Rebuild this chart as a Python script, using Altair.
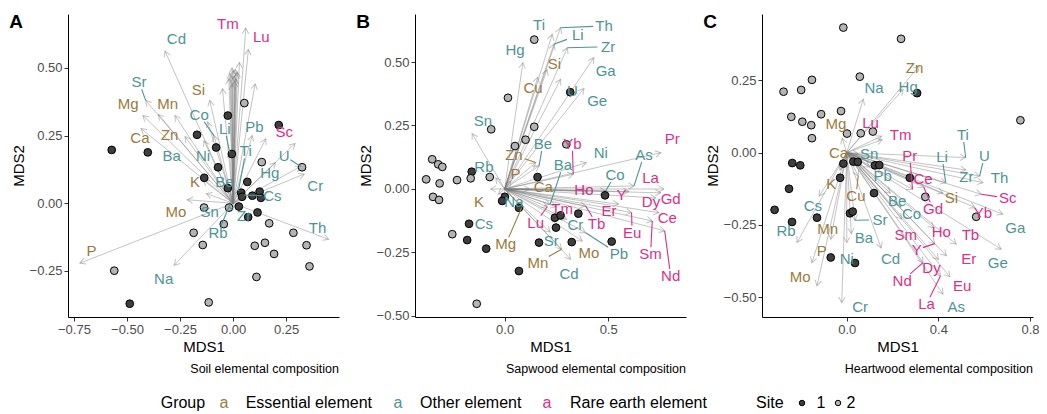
import math
import altair as alt
import pandas as pd

FONT = "Liberation Sans"
W, H = 271, 303

GROUP_NAMES = {"E": "Essential element", "O": "Other element", "R": "Rare earth element"}
GROUP_DOMAIN = ["Essential element", "Other element", "Rare earth element"]
GROUP_COLORS = ["#9B7A3B", "#4C9597", "#D8308A"]
SITE_DOMAIN = ["1", "2"]
SITE_COLORS = ["#3e3e3e", "#b4b4b4"]

# ---------------- Panel A: soil ----------------
A_s1x = [-0.572, -0.402, -0.025, -0.170, -0.080, -0.006, 0.215, -0.071, -0.136, 0.067, -0.025, 0.038, 0.042, 0.091, 0.125, 0.131, 0.027, 0.115, 0.071, -0.487]
A_s1y = [0.197, 0.188, 0.324, 0.253, 0.206, 0.182, 0.289, 0.133, 0.094, 0.079, 0.056, 0.039, 0.024, 0.028, 0.043, 0.020, -0.012, -0.034, -0.051, -0.371]
A_s2x = [0.053, 0.135, 0.325, -0.137, -0.019, -0.044, 0.170, -0.186, 0.284, -0.143, 0.150, 0.102, 0.193, 0.346, 0.360, -0.560, 0.110, -0.115]
A_s2y = [0.370, 0.152, 0.133, -0.016, -0.016, -0.077, -0.074, -0.109, -0.109, -0.154, -0.146, -0.157, -0.187, -0.155, -0.233, -0.249, -0.272, -0.366]

A_el = ["Tm", "Lu", "Cd", "Sr", "Mg", "Mn", "Si", "Co", "Li", "Pb", "Sc", "Ca", "Zn", "Ba", "Ni", "Ti", "U", "Hg", "Cr", "K", "Be", "Cs", "Mo", "Sn", "Zr", "Rb", "Th", "P", "Na",
        "La", "Ce", "Pr", "Nd", "Sm", "Eu", "Gd", "Tb", "Dy", "Ho", "Er", "Y", "Yb", "Ga", "Ge", "As", "Cu"]
A_grp = ["R", "R", "O", "O", "E", "E", "E", "O", "O", "O", "R", "E", "E", "O", "O", "O", "O", "O", "O", "E", "O", "O", "E", "O", "O", "O", "O", "E", "O",
         "R", "R", "R", "R", "R", "R", "R", "R", "R", "R", "R", "R", "R", "O", "O", "O", "E"]
A_tx = [0.060, 0.072, -0.321, -0.412, -0.425, -0.352, -0.110, -0.090, -0.016, 0.090, 0.154, -0.434, -0.274, -0.226, -0.137, 0.025, 0.319, 0.200, 0.335, -0.140, -0.020, 0.052, -0.216, -0.126, -0.024, -0.014, 0.450, -0.722, -0.278,
        -0.015, -0.005, 0.000, 0.010, 0.015, -0.020, 0.005, 0.020, -0.010, 0.008, 0.012, -0.005, 0.030, 0.104, -0.050, 0.292, -0.120]
A_ty = [0.647, 0.568, 0.562, 0.380, 0.324, 0.328, 0.380, 0.250, 0.188, 0.250, 0.238, 0.276, 0.324, 0.246, 0.231, 0.046, 0.136, 0.150, 0.108, 0.085, 0.070, 0.030, 0.013, 0.036, -0.013, -0.003, -0.133, -0.221, -0.229,
        0.480, 0.500, 0.490, 0.495, 0.480, 0.460, 0.470, 0.485, 0.470, 0.450, 0.460, 0.440, 0.520, 0.441, 0.423, 0.221, 0.300]
A_lx = [-0.025, 0.133, -0.267, -0.443, -0.494, -0.308, -0.164, -0.160, -0.039, 0.100, 0.241, -0.439, -0.299, -0.289, -0.142, 0.060, 0.241, 0.173, 0.387, -0.179, -0.041, 0.185, -0.270, -0.110, 0.052, -0.071, 0.398, -0.667, -0.327] + [None] * 17
A_ly = [0.661, 0.614, 0.606, 0.447, 0.365, 0.367, 0.419, 0.327, 0.275, 0.283, 0.265, 0.241, 0.253, 0.175, 0.175, 0.192, 0.175, 0.110, 0.062, 0.080, 0.080, 0.028, -0.034, -0.034, -0.046, -0.110, -0.090, -0.176, -0.279] + [None] * 17
A_leader = ["Sr", "Co", "Li", "Ti", "U", "Cs", "Zr", "Rb"]

# ---------------- Panel B: sapwood ----------------
B_s1x = [0.317, 0.159, 0.485, -0.159, 0.001, -0.012, 0.069, -0.172, -0.181, -0.089, 0.069, 0.243, 0.270, 0.356, 0.248, 0.166, 0.324, 0.517]
B_s1y = [0.381, 0.047, -0.025, 0.068, -0.031, -0.047, -0.074, -0.137, -0.201, -0.235, -0.323, -0.113, -0.104, -0.097, -0.152, -0.211, -0.209, -0.207]
B_s2x = [0.143, 0.016, -0.065, 0.143, 0.101, 0.050, 0.298, -0.350, -0.321, -0.301, -0.072, -0.379, -0.314, -0.230, -0.164, -0.346, -0.317, -0.253, -0.135]
B_s2y = [0.588, 0.359, 0.235, 0.245, 0.194, 0.169, 0.176, 0.117, 0.097, 0.087, 0.047, 0.038, 0.022, 0.035, 0.042, -0.031, -0.043, -0.178, -0.452]

B_el = ["Ti", "Th", "Li", "Zr", "Hg", "Si", "Ga", "Cu", "U", "Ge", "Sn", "Be", "Yb", "Zn", "Ni", "Pr", "Rb", "Ba", "As", "P", "Co", "La", "Ca", "Ho", "Y", "Gd", "Dy", "K", "Na",
        "Er", "Ce", "Nd", "Sm", "Eu", "Tb", "Tm", "Cr", "Lu", "Mg", "Sr", "Pb", "Mo", "Mn", "Cd", "Cs"]
B_grp = ["O", "O", "O", "O", "O", "E", "O", "E", "O", "O", "O", "O", "R", "E", "O", "R", "O", "O", "O", "E", "O", "R", "E", "R", "R", "R", "R", "E", "O",
         "R", "R", "R", "R", "R", "R", "R", "O", "R", "E", "O", "O", "E", "E", "O", "O"]
B_tx = [0.230, 0.270, 0.238, 0.303, 0.088, 0.205, 0.431, 0.160, 0.270, 0.383, -0.157, 0.166, 0.331, 0.150, 0.394, 0.754, -0.043, 0.220, 0.625, 0.030, 0.488, 0.770, 0.120, 0.400, 0.600, 0.754, 0.730, -0.068, 0.000,
        0.550, 0.745, 0.773, 0.713, 0.613, 0.391, 0.250, 0.300, 0.206, 0.082, 0.220, 0.391, 0.375, 0.275, 0.319, -0.030]
B_ty = [0.609, 0.635, 0.570, 0.556, 0.497, 0.470, 0.517, 0.440, 0.432, 0.396, 0.218, 0.091, 0.058, 0.104, 0.104, 0.143, 0.044, -0.060, 0.012, 0.030, -0.008, 0.000, 0.000, -0.010, -0.010, -0.015, -0.035, 0.000, -0.040,
        -0.060, -0.093, -0.165, -0.126, -0.093, -0.067, -0.070, -0.120, -0.070, -0.074, -0.170, -0.172, -0.205, -0.237, -0.277, -0.020]
B_lx = [0.166, 0.480, 0.353, 0.500, 0.050, 0.241, 0.488, 0.137, 0.327, 0.447, -0.105, 0.185, 0.327, 0.045, 0.464, 0.810, -0.100, 0.282, 0.673, 0.053, 0.533, 0.705, 0.187, 0.383, 0.565, 0.802, 0.707, -0.124, 0.045,
        0.504, 0.786, 0.802, 0.705, 0.616, 0.444, 0.278, 0.342, 0.150, 0.005, 0.225, 0.552, 0.407, 0.161, 0.311, -0.100]
B_ly = [0.644, 0.642, 0.605, 0.560, 0.546, 0.493, 0.465, 0.399, 0.386, 0.346, 0.268, 0.178, 0.178, 0.134, 0.143, 0.196, 0.088, 0.094, 0.134, 0.058, 0.055, 0.044, 0.009, -0.005, -0.025, -0.040, -0.052, -0.051, -0.051,
        -0.087, -0.113, -0.343, -0.257, -0.172, -0.137, -0.080, -0.142, -0.133, -0.218, -0.205, -0.257, -0.251, -0.290, -0.333, -0.137]
B_leader = ["Th", "Li", "Zr", "Be", "Yb", "Zn", "Ba", "As", "Co", "Nd", "Sm", "Eu", "Tb", "Lu", "Mg", "Pb", "Mn"]

# ---------------- Panel C: heartwood ----------------
C_s1x = [0.307, -0.238, -0.203, -0.015, 0.029, 0.048, 0.123, 0.142, -0.029, 0.275, -0.252, 0.119, -0.315, -0.239, -0.130, 0.014, 0.026, -0.070, 0.036]
C_s1y = [0.206, -0.036, -0.044, -0.038, -0.031, -0.032, -0.044, -0.043, -0.087, -0.087, -0.125, -0.140, -0.198, -0.240, -0.225, -0.210, -0.204, -0.363, -0.382]
C_s2x = [-0.015, 0.237, 0.057, -0.276, -0.199, -0.152, -0.242, -0.194, -0.155, -0.112, -0.025, -0.152, 0.001, 0.061, 0.114, 0.758, 0.343, 0.565]
C_s2y = [0.433, 0.394, 0.263, 0.211, 0.217, 0.252, 0.124, 0.107, 0.095, 0.133, 0.144, 0.050, 0.066, 0.067, 0.073, 0.112, -0.153, -0.222]

C_el = ["Zn", "Hg", "Na", "Mg", "Lu", "Tm", "Ti", "Ca", "Sn", "Pr", "Li", "U", "Zr", "Th", "Ce", "Pb", "K", "Cu", "Si", "Sc", "Be", "Cs", "Gd", "Yb", "Ga", "Co", "Sr",
        "Rb", "Mn", "Ba", "Sm", "Ho", "Tb", "Y", "P", "Ni", "Cd", "Er", "Ge", "Dy", "Nd", "Mo", "Eu", "La", "As", "Cr"]
C_grp = ["E", "O", "O", "E", "R", "R", "O", "E", "O", "R", "O", "O", "O", "O", "R", "O", "E", "E", "E", "R", "O", "O", "R", "R", "O", "O", "O",
         "O", "E", "O", "R", "R", "R", "R", "E", "O", "O", "R", "O", "R", "R", "E", "R", "R", "O", "O"]
C_tx = [0.316, 0.246, 0.072, -0.020, 0.152, 0.155, 0.519, 0.000, 0.050, 0.287, 0.432, 0.580, 0.520, 0.594, 0.300, 0.100, -0.030, 0.050, 0.420, 0.587, 0.190, -0.120, 0.336, 0.560, 0.681, 0.222, 0.036,
        -0.217, -0.070, 0.020, 0.240, 0.380, 0.478, 0.384, -0.152, 0.000, 0.150, 0.435, 0.674, 0.400, 0.333, -0.130, 0.450, 0.409, 0.420, -0.022]
C_ty = [0.300, 0.219, 0.185, 0.050, 0.057, 0.045, -0.017, 0.000, -0.005, -0.127, -0.104, -0.081, -0.060, -0.104, -0.090, -0.050, -0.060, -0.081, -0.140, -0.144, -0.140, -0.150, -0.119, -0.190, -0.213, -0.180, -0.234,
        -0.311, -0.300, -0.280, -0.230, -0.260, -0.317, -0.315, -0.381, -0.311, -0.330, -0.357, -0.334, -0.370, -0.381, -0.461, -0.430, -0.427, -0.490, -0.519]
C_lx = [0.296, 0.268, 0.119, -0.047, 0.104, 0.235, 0.507, -0.036, 0.098, 0.275, 0.416, 0.601, 0.522, 0.667, 0.333, 0.157, -0.068, 0.040, 0.457, 0.703, 0.220, -0.148, 0.377, 0.594, 0.736, 0.283, 0.145,
        -0.265, -0.083, 0.075, 0.258, 0.413, 0.540, 0.305, -0.109, 0.000, 0.191, 0.533, 0.659, 0.370, 0.242, -0.203, 0.504, 0.348, 0.478, 0.058]
C_ly = [0.293, 0.229, 0.223, 0.098, 0.104, 0.061, 0.061, -0.002, -0.006, -0.011, -0.015, -0.011, -0.084, -0.087, -0.092, -0.081, -0.109, -0.150, -0.156, -0.158, -0.167, -0.184, -0.196, -0.208, -0.260, -0.213, -0.233,
        -0.271, -0.263, -0.294, -0.284, -0.273, -0.285, -0.336, -0.340, -0.369, -0.369, -0.369, -0.381, -0.400, -0.444, -0.432, -0.461, -0.525, -0.536, -0.536]
C_leader = ["Ti", "Pr", "Li", "U", "Cu", "Sc", "Gd", "Co", "Sr", "Y", "Nd", "La"]

# Legend row
LEGEND_TEXT = ["Group", "a", "Essential element", "a", "Other element", "a", "Rare earth element", "Site", "1", "2"]

CHEVRON = "M -0.9 1.56 L 0 0 L 0.9 1.56"
ARROW_COLOR = "#7a7a7a"
ARROW_OPACITY = 0.45


def build_panel(letter, caption, xdom, ydom, xticks, yticks, xfmt, yfmt,
                s1x, s1y, s2x, s2y, el, grp, tx, ty, lx, ly, leaders, legend=False):
    assert len(el) == len(grp) == len(tx) == len(ty) == len(lx) == len(ly), letter
    sx = W / (xdom[1] - xdom[0])
    sy = H / (ydom[1] - ydom[0])
    xs = alt.Scale(domain=xdom, nice=False, zero=False)
    ys = alt.Scale(domain=ydom, nice=False, zero=False)
    xax = alt.Axis(values=xticks, format=xfmt, title="MDS1", grid=False)
    yax = alt.Axis(values=yticks, format=yfmt, title="MDS2", grid=False)
    gscale = alt.Scale(domain=GROUP_DOMAIN, range=GROUP_COLORS)

    def X(f):
        return alt.X(f, type="quantitative", scale=xs, axis=xax)

    def Y(f):
        return alt.Y(f, type="quantitative", scale=ys, axis=yax)

    arr = pd.DataFrame({"el": el, "grp": [GROUP_NAMES[g] for g in grp],
                        "tx": tx, "ty": ty, "lx": lx, "ly": ly})
    arr["x0"] = 0.0
    arr["y0"] = 0.0
    arr["ang"] = [(math.degrees(math.atan2(a * sx, b * sy)) + 360.0) % 360.0 for a, b in zip(tx, ty)]

    shafts = alt.Chart(arr).mark_rule(color=ARROW_COLOR, opacity=ARROW_OPACITY, strokeWidth=1).encode(
        x=X("x0"), y=Y("y0"), x2="tx", y2="ty")
    heads = alt.Chart(arr).mark_point(shape=CHEVRON, filled=False, size=50, strokeWidth=1,
                                      color=ARROW_COLOR, opacity=ARROW_OPACITY).encode(
        x=X("tx"), y=Y("ty"), angle=alt.Angle("ang:Q", scale=None))

    pts = pd.DataFrame({"x": s1x + s2x, "y": s1y + s2y,
                        "site": ["1"] * len(s1x) + ["2"] * len(s2x)})
    points = alt.Chart(pts).mark_circle(size=60, stroke="black", strokeWidth=1, opacity=1).encode(
        x=X("x"), y=Y("y"),
        fill=alt.Fill("site:N", scale=alt.Scale(domain=SITE_DOMAIN, range=SITE_COLORS), legend=None))

    lab = arr.dropna(subset=["lx"]).copy()
    # leader segments: from the label box edge to the arrow tip (computed in pixel space)
    rows = []
    for _, r in lab.iterrows():
        if r["el"] not in leaders:
            continue
        dx = (r["tx"] - r["lx"]) * sx
        dy = (r["ty"] - r["ly"]) * sy
        hw = 0.31 * 15 * len(r["el"]) + 1.5
        hh = 7.0
        t = min(hw / abs(dx) if abs(dx) > 1e-9 else 1e9, hh / abs(dy) if abs(dy) > 1e-9 else 1e9)
        if t >= 1:
            continue
        rows.append({"sx": r["lx"] + t * dx / sx, "sy": r["ly"] + t * dy / sy,
                     "tx": r["tx"], "ty": r["ty"], "grp": r["grp"]})
    segs = pd.DataFrame(rows)
    leader_layer = alt.Chart(segs).mark_rule(strokeWidth=1.1).encode(
        x=X("sx"), y=Y("sy"), x2="tx", y2="ty",
        color=alt.Color("grp:N", scale=gscale, legend=None))

    labels = alt.Chart(lab).mark_text(font=FONT, fontSize=15, align="center", baseline="middle").encode(
        x=X("lx"), y=Y("ly"), text="el:N",
        color=alt.Color("grp:N", scale=gscale, legend=None))

    one = pd.DataFrame({"t": [letter]})
    letter_layer = alt.Chart(one).mark_text(font=FONT, fontSize=19, fontWeight="bold",
                                            align="center", baseline="alphabetic", color="black").encode(
        text="t:N", x=alt.value(-52), y=alt.value(14))
    cap = pd.DataFrame({"t": [caption]})
    cap_layer = alt.Chart(cap).mark_text(font=FONT, fontSize=12.5, align="right",
                                         baseline="middle", color="black").encode(
        text="t:N", x=alt.value(W), y=alt.value(355))

    layers = [shafts, heads, points, leader_layer, labels, letter_layer, cap_layer]

    if legend:
        lx_pos = [92.7, 156, 177.7, 330, 352, 479, 502, 688, 753, 783]
        lalign = ["left", "center", "left", "center", "left", "center", "left", "left", "center", "center"]
        lcol = ["black", GROUP_COLORS[0], "black", GROUP_COLORS[1], "black", GROUP_COLORS[2], "black", "black", "black", "black"]
        for txt, px, al, col in zip(LEGEND_TEXT, lx_pos, lalign, lcol):
            layers.append(alt.Chart(pd.DataFrame({"t": [txt]})).mark_text(
                font=FONT, fontSize=16, align=al, baseline="middle", color=col).encode(
                text="t:N", x=alt.value(px), y=alt.value(389)))
        for px, col in zip([734, 770], SITE_COLORS):
            layers.append(alt.Chart(pd.DataFrame({"t": [0]})).mark_circle(
                size=30, fill=col, stroke="black", strokeWidth=1, opacity=1).encode(
                x=alt.value(px), y=alt.value(389)))

    return alt.layer(*layers).properties(width=W, height=H)


pA = build_panel("A", "Soil elemental composition", [-0.778, 0.499], [-0.42, 0.699],
                 [-0.75, -0.5, -0.25, 0.0, 0.25], [-0.25, 0.0, 0.25, 0.5], ".2f", ".2f",
                 A_s1x, A_s1y, A_s2x, A_s2y, A_el, A_grp, A_tx, A_ty, A_lx, A_ly, A_leader, legend=True)
pB = build_panel("B", "Sapwood elemental composition", [-0.433, 0.876], [-0.504, 0.689],
                 [0.0, 0.5], [-0.5, -0.25, 0.0, 0.25, 0.5], ".1f", ".2f",
                 B_s1x, B_s1y, B_s2x, B_s2y, B_el, B_grp, B_tx, B_ty, B_lx, B_ly, B_leader)
pC = build_panel("C", "Heartwood elemental composition", [-0.370, 0.813], [-0.569, 0.48],
                 [0.0, 0.4, 0.8], [-0.5, -0.25, 0.0, 0.25], ".1f", ".2f",
                 C_s1x, C_s1y, C_s2x, C_s2y, C_el, C_grp, C_tx, C_ty, C_lx, C_ly, C_leader)

chart = alt.hconcat(pA, pB, pC, spacing=76, bounds="flush").properties(
    padding={"left": 9, "top": 13, "right": 0, "bottom": 0}
).configure_view(stroke=None).configure_axis(
    labelFont=FONT, titleFont=FONT, labelFontSize=13, titleFontSize=15,
    labelColor="#4d4d4d", titleColor="black", titleFontWeight="normal",
    domainColor="black", domainWidth=1, tickColor="#333333", tickSize=4, tickWidth=1,
    labelPadding=2, titlePadding=3
).configure_text(font=FONT)

chart.save("out.html", embed_options={"renderer": "svg", "actions": False})
